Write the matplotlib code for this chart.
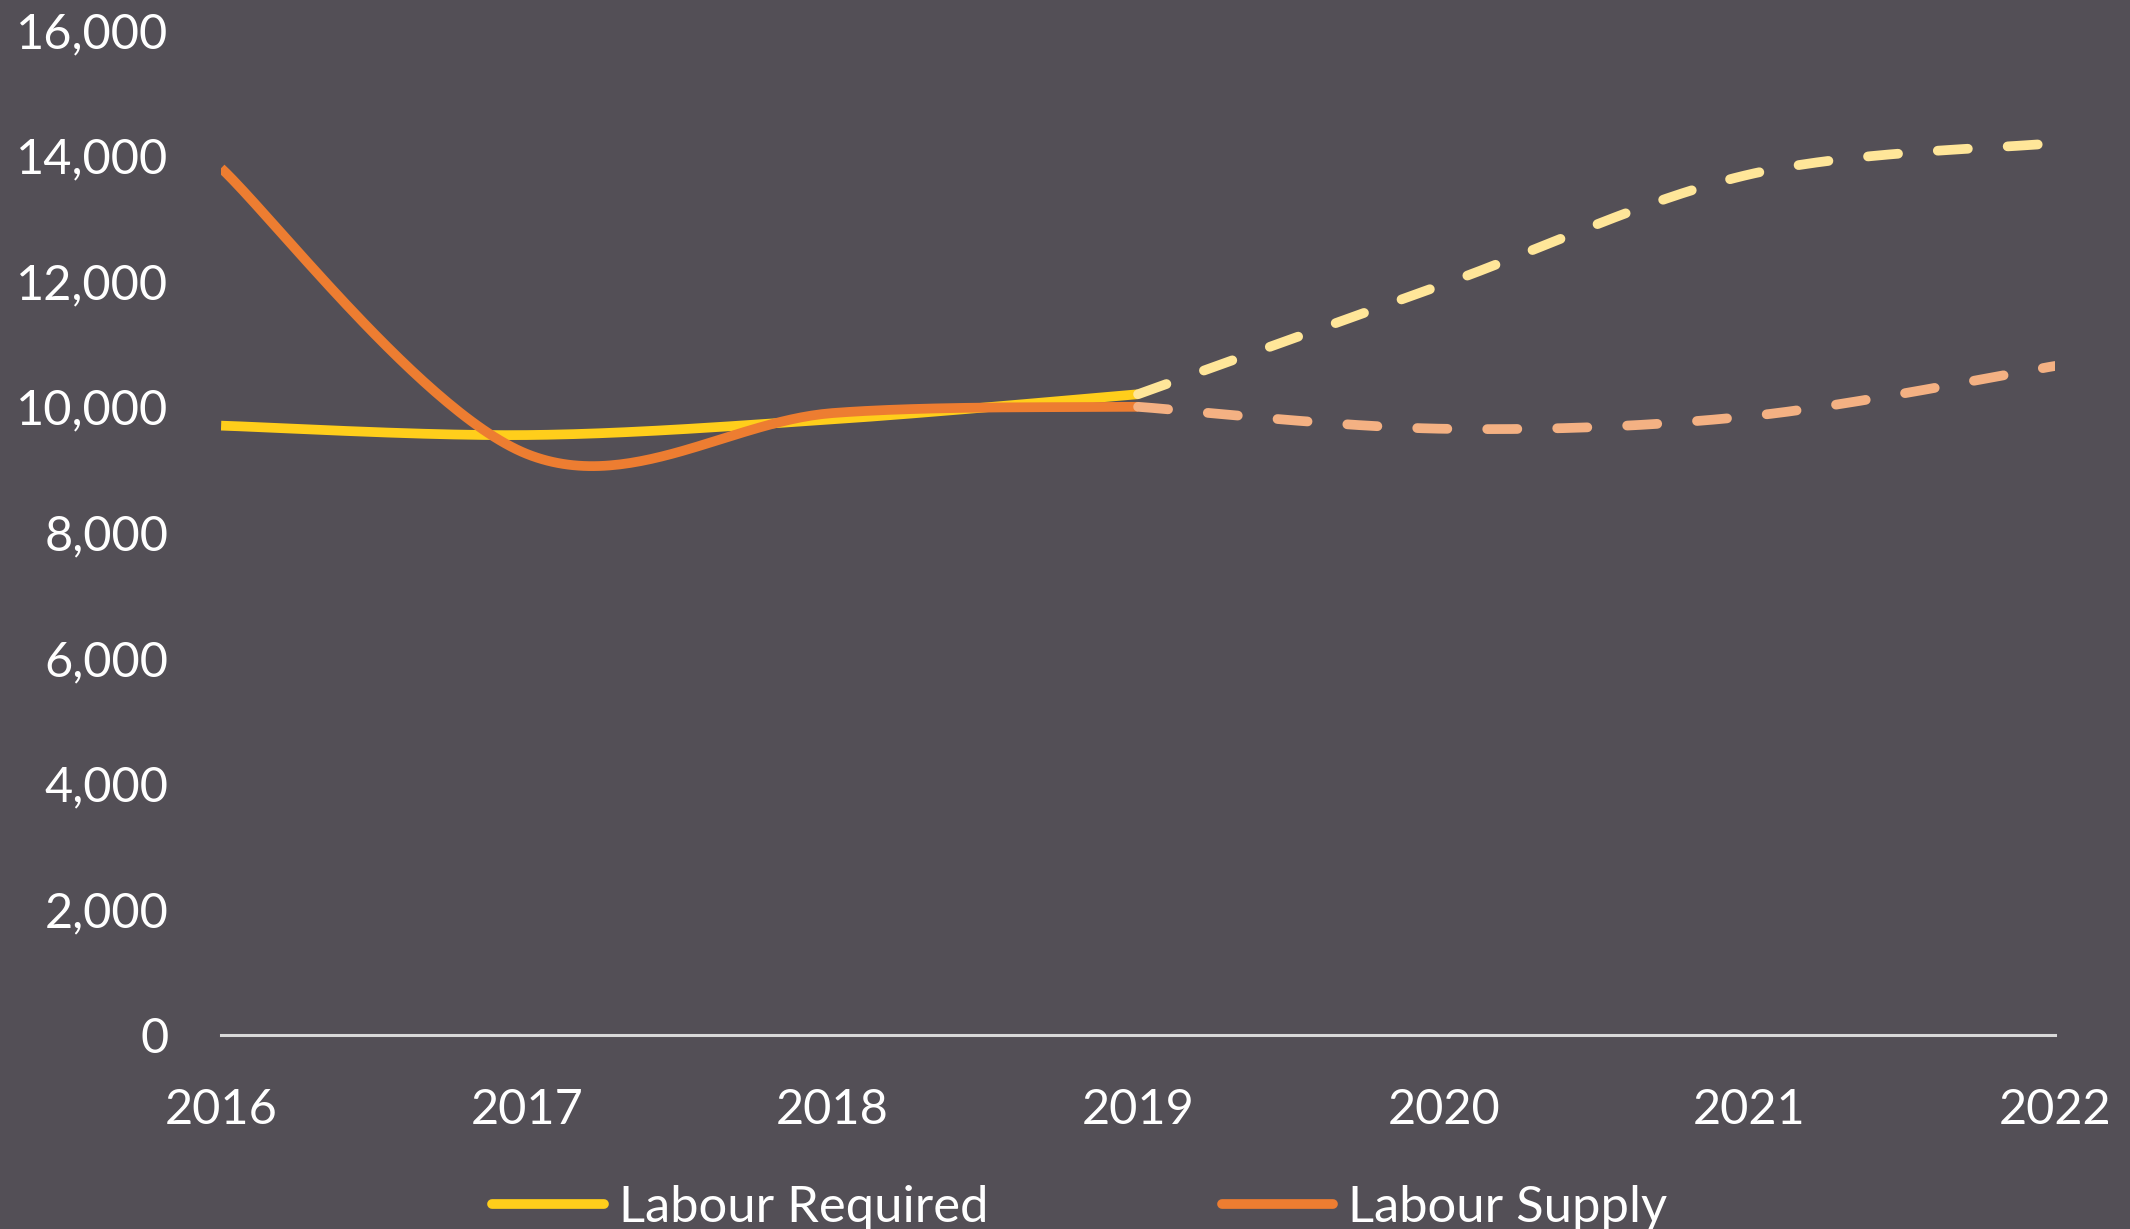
import numpy as np
import matplotlib
matplotlib.use("Agg")
import matplotlib.pyplot as plt
from matplotlib.lines import Line2D
from matplotlib.ticker import FuncFormatter

# ---- data ----
years = [2016, 2017, 2018, 2019, 2020, 2021, 2022]
actual_years = [2016, 2017, 2018, 2019]
forecast_years = [2019, 2020, 2021, 2022]
required_actual = [9700, 9550, 9800, 10200]
required_forecast = [10200, 11950, 13700, 14200]
supply_actual = [13800, 9250, 9900, 10000]
supply_forecast = [10000, 9650, 9850, 10650]
series_labels = ["Labour Required", "Labour Supply"]
y_ticks = [0, 2000, 4000, 6000, 8000, 10000, 12000, 14000, 16000]

BG = "#534F56"
YELLOW = "#FFCE1B"
ORANGE = "#ED7D31"
LYELLOW = "#FFE699"
LORANGE = "#F4B183"
FONT = ["Lato", "DejaVu Sans"]


def smooth(xs, ys, n=60):
    """Excel-like smoothed line (Catmull-Rom Bezier through points)."""
    P = np.column_stack([xs, ys]).astype(float)
    out = []
    for i in range(len(P) - 1):
        p0 = P[i - 1] if i > 0 else P[i]
        p1 = P[i]
        p2 = P[i + 1]
        p3 = P[i + 2] if i + 2 < len(P) else P[i + 1]
        c1 = p1 + (p2 - p0) / 6.0
        c2 = p2 - (p3 - p1) / 6.0
        t = np.linspace(0, 1, n)[:, None]
        seg = ((1 - t) ** 3) * p1 + 3 * ((1 - t) ** 2) * t * c1 + 3 * (1 - t) * t ** 2 * c2 + t ** 3 * p2
        if i > 0:
            seg = seg[1:]
        out.append(seg)
    out = np.vstack(out)
    return out[:, 0], out[:, 1]


fig = plt.figure(figsize=(21.30, 12.29), dpi=100, facecolor=BG)
ax = fig.add_axes([0.1038, 0.158, 0.861, 0.8176], facecolor=BG)

lw = 7
dash = (3.1, 4.1)

x, y = smooth(actual_years, required_actual)
ax.plot(x, y, color=YELLOW, lw=lw, solid_capstyle="butt", zorder=3)
x, y = smooth(actual_years, supply_actual)
ax.plot(x, y, color=ORANGE, lw=lw, solid_capstyle="butt", zorder=3)

x, y = smooth(forecast_years, required_forecast)
ax.plot(x, y, color=LYELLOW, lw=lw, dashes=dash, dash_capstyle="round", zorder=3)
x, y = smooth(forecast_years, supply_forecast)
ax.plot(x, y, color=LORANGE, lw=lw, dashes=dash, dash_capstyle="round", zorder=3)

ax.set_xlim(years[0], years[-1])
ax.set_ylim(0, 16000)
ax.set_xticks(years)
ax.set_yticks(y_ticks)
ax.yaxis.set_major_formatter(FuncFormatter(lambda v, p: f"{int(v):,}"))

for s in ["top", "right", "left"]:
    ax.spines[s].set_visible(False)
ax.spines["bottom"].set_color("#D9D9D9")
ax.spines["bottom"].set_linewidth(2.2)
ax.spines["bottom"].set_zorder(1)

ax.tick_params(axis="both", length=0, colors="white", labelsize=35)
ax.tick_params(axis="y", pad=38)
ax.tick_params(axis="x", pad=38)
for lab in ax.get_xticklabels() + ax.get_yticklabels():
    lab.set_family(FONT)
    lab.set_color("white")

handles = [Line2D([], [], color=YELLOW, lw=lw, solid_capstyle="round"),
           Line2D([], [], color=ORANGE, lw=lw, solid_capstyle="round")]
leg = fig.legend(handles, series_labels, loc="center", bbox_to_anchor=(0.507, 0.017),
                 ncol=2, frameon=False, handlelength=2.2, handletextpad=0.3,
                 columnspacing=4.6, prop={"family": FONT, "size": 36.5})
for t in leg.get_texts():
    t.set_color("white")

fig.savefig("out.png", dpi=100, facecolor=BG)
